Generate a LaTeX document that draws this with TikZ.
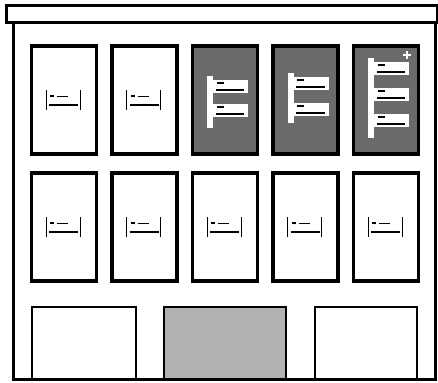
\documentclass[tikz,border=0pt]{standalone}
\usetikzlibrary{calc,positioning}
\tikzset{
    cabinet/.style    = {x=0.5pt, y=-0.5pt},
    frameline/.style  = {line width=1.5pt},
    lidbar/.style     = {draw, line width=1.5pt, fill=white, inner sep=0pt,
                         minimum width=215.5pt, minimum height=8.5pt},
    card/.style       = {draw, line width=1.7pt, fill=white, inner sep=0pt,
                         outer sep=0pt,
                         minimum width=32.5pt, minimum height=54pt},
    shadedcard/.style = {card, fill=black!58},
    tray/.style       = {draw, line width=1pt, fill=white, inner sep=0pt,
                         minimum height=36pt},
    tagbox/.style     = {fill=white, inner sep=0pt,
                         minimum width=20pt, minimum height=6.5pt},
    tagline/.style    = {line width=0.6pt},
    mark line/.style  = {line width=0.5pt}
}

\begin{document}
\begin{tikzpicture}[cabinet]
\useasboundingbox (0,0) rectangle (438,382);

% Cabinet body and lid
\draw[frameline] (13,22) rectangle (435,379);
\node[lidbar] (lid) at (221.5,13.5) {};

% Upper row of cards
\node[card] (top1) at (64,100) {};
\foreach \i/\j/\s in {2/1/card, 3/2/shadedcard, 4/3/shadedcard, 5/4/shadedcard}
    \node[\s, right=7.75pt of top\j] (top\i) {};

% Lower row of cards
\foreach \i in {1,...,5}
    \node[card, below=9.5pt of top\i] (low\i) {};

% Small labels on the white cards
\foreach \n in {top1, top2, low1, low2, low3, low4, low5} {
    \draw[mark line] ($(\n)+(-18,-10)$) -- ($(\n)+(-18,10)$);
    \draw[mark line] ($(\n)+(16,-10)$) -- ($(\n)+(16,10)$);
    \draw[line width=0.9pt] ($(\n)+(-14,-4)$) -- ($(\n)+(-10,-4)$);
    \draw[mark line] ($(\n)+(-7,-4)$) -- ($(\n)+(4,-4)$);
    \draw[line width=0.8pt] ($(\n)+(-15,5)$) -- ($(\n)+(14,5)$);
}

% Spines and tabs on the shaded cards
\foreach \c/\a/\b in {3/-24/28, 4/-27/23, 5/-42/38}
    \fill[white] ($(top\c)+(-18,\a)$) rectangle ($(top\c)+(-12,\b)$);
\foreach \c/\dy [count=\k] in {3/-14, 3/10, 4/-17, 4/9, 5/-32, 5/-6, 5/20} {
    \node[tagbox] (tag\k) at ($(top\c)+(3,\dy)$) {};
    \draw[tagline] ($(tag\k.south west)+(8,-3)$) -- ($(tag\k.south east)+(-4,-3)$);
    \draw[line width=1.2pt] ($(tag\k.north west)+(9,4)$) -- ($(tag\k.north west)+(16,4)$);
}
\draw[white, line width=1.3pt] ($(top5)+(17,-45)$) -- ($(top5)+(25,-45)$)
                                ($(top5)+(21,-49)$) -- ($(top5)+(21,-41)$);

% Bottom trays resting on the base
\node[tray, minimum width=52pt] (tray1) at (84,343) {};
\node[tray, minimum width=61pt, fill=black!30] (tray2) at (225,343) {};
\node[tray, minimum width=51pt] (tray3) at (366,343) {};
\draw[frameline] (13,379) -- (435,379);

\end{tikzpicture}
\end{document}
